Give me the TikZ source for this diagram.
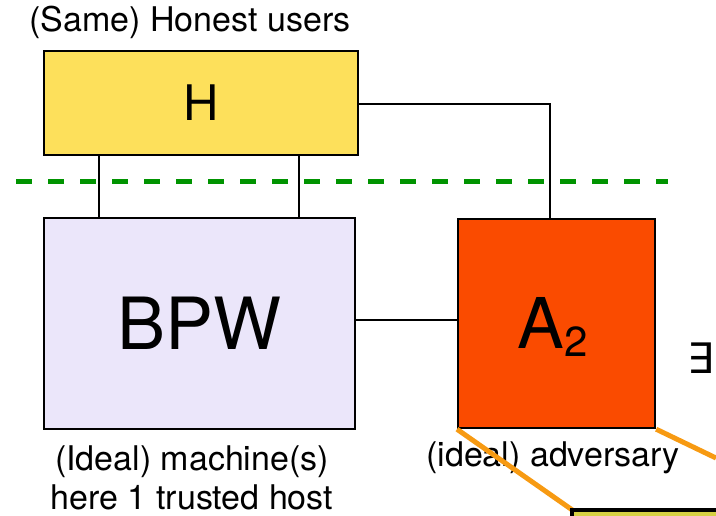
\documentclass[tikz,border=0pt]{standalone}
\usepackage{fontspec}
\usetikzlibrary{calc}
\setmainfont{TeX Gyre Heros}
\newfontfamily\symfont{DejaVu Sans}
\definecolor{hyellow}{HTML}{FDE05B}
\definecolor{lavender}{HTML}{EBE6FA}
\definecolor{advred}{HTML}{FA4B00}
\definecolor{dgreen}{HTML}{009400}
\definecolor{lorange}{HTML}{F79A12}
\definecolor{olive}{HTML}{D6D043}
\begin{document}
\begin{tikzpicture}[x=1pt,y=-1pt,
  box/.style={draw=black,line width=2.2pt,anchor=north west,inner sep=0pt},
  wire/.style={draw=black,line width=2.2pt},
  caption/.style={inner sep=0pt,font=\fontsize{34}{39}\selectfont,align=center},
  link/.style={draw=lorange,line width=5pt}]
\useasboundingbox (0,0) rectangle (716,516);
\clip (0,0) rectangle (716,516);

% boxes
\node[box,fill=hyellow,minimum width=314,minimum height=104,font=\fontsize{49}{52}\selectfont] (H) at (43,50) {H};
\node[box,fill=lavender,minimum width=311,minimum height=211,font=\fontsize{72}{76}\selectfont] (BPW) at (43,217) {BPW};
\node[box,fill=advred,minimum width=197,minimum height=209] (A) at (457,218) {};
\node[inner sep=0pt,font=\fontsize{70}{74}\selectfont] (Alabel) at (553,327) {A\raisebox{-0.12em}{\fontsize{42}{46}\selectfont 2}};

% separator between honest users and the machines
\draw[dgreen,line width=5pt,dash pattern=on 16pt off 16pt] (16,182) -- (668,182);

% connections
\draw[wire] ($(H.south west)+(56,0)$) -- ($(BPW.north west)+(56,0)$);
\draw[wire] ($(H.south west)+(256,0)$) -- ($(BPW.north west)+(256,0)$);
\coordinate (bend) at (550,104);
\draw[wire] (H.east |- bend) -- (bend) -- (bend |- A.north);
\draw[wire] (BPW.east |- 0,320) -- (A.west |- 0,320);

% captions
\node[caption] (hcap) at (190,22) {(Same) Honest users};
\node[caption,align=center] (bcap) at (192,478) {(Ideal) machine(s)\\here 1 trusted host};
\node[caption] (acap) at (553,458) {(ideal) adversary};
\node[inner sep=0pt,font=\symfont\fontsize{42}{46}\selectfont] (ex) at (701,358) {∃};

% zoom lines towards the lower box
\coordinate (lowbox) at (572,510);
\draw[link] (A.south west) -- (578,514);
\draw[link] (A.south east) -- (716,458);
\draw[fill=olive,draw=black,line width=4pt] (lowbox) rectangle (760,560);
\end{tikzpicture}
\end{document}
